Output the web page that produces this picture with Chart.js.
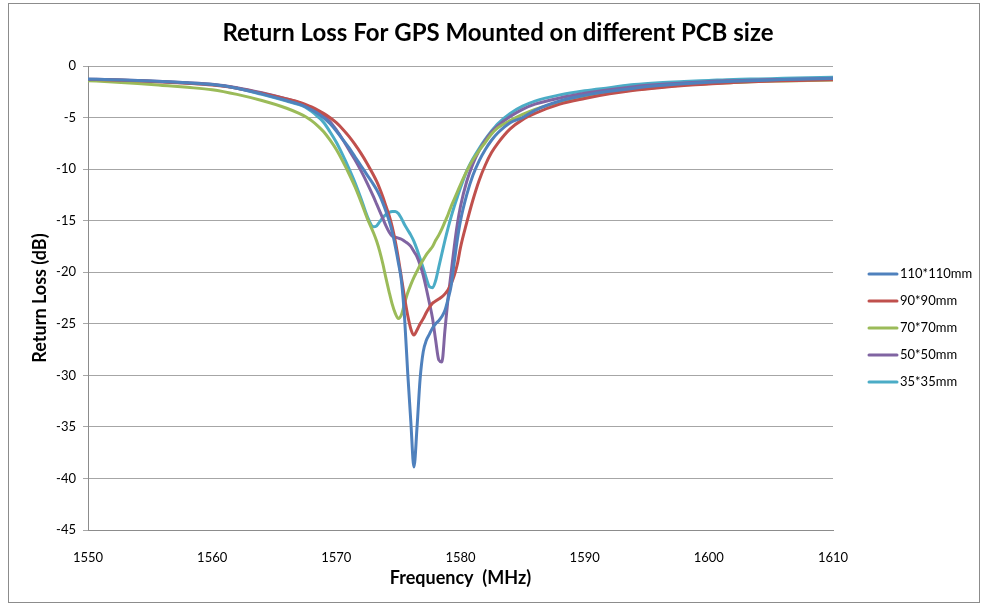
<!DOCTYPE html>
<html>
<head>
<meta charset="utf-8">
<title>Return Loss</title>
<script src="https://cdn.jsdelivr.net/npm/chart.js@4"></script>
<style>
  body { margin: 0; background: #fff; }
  canvas { display: block; }
</style>
</head>
<body>
<canvas id="grafico" width="982" height="605"></canvas>
<script>
// Frecuencias medidas (MHz)
const frecuencias = [
    1550, 1552, 1554, 1556, 1558, 1560, 1562, 1564, 1566,
    1567, 1567.5, 1568, 1568.5, 1569, 1569.5, 1570, 1570.5, 1571, 1571.5, 1572, 1572.5,
    1573, 1573.25, 1573.5, 1573.75, 1574, 1574.25, 1574.5, 1574.75,
    1575, 1575.25, 1575.5, 1575.75, 1576, 1576.25, 1576.5, 1576.75,
    1577, 1577.25, 1577.5, 1577.75, 1578, 1578.25, 1578.5, 1578.75,
    1579, 1579.25, 1579.5, 1579.75, 1580,
    1580.5, 1581, 1581.5, 1582, 1582.5, 1583,
    1584, 1585, 1586, 1588,
    1590, 1592, 1594, 1596, 1598, 1600, 1602, 1604, 1606, 1608, 1610
];

// Return loss (dB) para cada tamaño de PCB
const pcb110 = [
    -1.28, -1.33, -1.40, -1.50, -1.63, -1.80, -2.15, -2.70, -3.35,
    -3.70, -3.95, -4.25, -4.60, -5.05, -5.60, -6.30, -7.10, -7.90, -8.80, -9.70, -10.6,
    -11.5, -12.0, -12.6, -13.3, -14.1, -15.0, -16.1, -17.5,
    -19.1, -20.9, -24.5, -29.8, -34.5, -38.9, -35.0, -30.3,
    -27.7, -26.6, -26.0, -25.4, -25.0, -24.7, -24.3, -23.7,
    -22.6, -21.3, -19.0, -16.8, -15.0,
    -12.5, -10.6, -9.2, -8.1, -7.2, -6.5,
    -5.5, -5.0, -4.3, -3.4,
    -2.85, -2.45, -2.15, -1.90, -1.72, -1.58, -1.48, -1.40, -1.32, -1.27, -1.22
];

const pcb90 = [
    -1.30, -1.36, -1.44, -1.55, -1.68, -1.85, -2.15, -2.65, -3.20,
    -3.50, -3.72, -3.97, -4.27, -4.62, -5.02, -5.50, -6.10, -6.80, -7.60, -8.50, -9.50,
    -10.6, -11.2, -11.9, -12.7, -13.6, -14.5, -15.6, -17.0,
    -18.7, -20.6, -22.5, -24.2, -25.5, -26.1, -25.6, -25.0,
    -24.5, -23.9, -23.4, -23.0, -22.8, -22.6, -22.4, -22.1,
    -21.7, -21.1, -20.3, -19.2, -17.6,
    -15.2, -13.0, -11.1, -9.6, -8.4, -7.5,
    -6.1, -5.2, -4.6, -3.7,
    -3.15, -2.70, -2.35, -2.10, -1.90, -1.75, -1.60, -1.50, -1.43, -1.38, -1.33
];

const pcb70 = [
    -1.42, -1.55, -1.70, -1.88, -2.07, -2.30, -2.75, -3.35, -4.10,
    -4.60, -4.90, -5.30, -5.80, -6.40, -7.20, -8.10, -9.20, -10.4, -11.7, -13.2, -14.8,
    -16.2, -17.0, -18.0, -19.2, -20.6, -21.9, -23.1, -24.0,
    -24.5, -24.1, -23.0, -22.0, -21.2, -20.5, -19.9, -19.3,
    -18.8, -18.3, -17.9, -17.5, -16.9, -16.4, -15.8, -15.1,
    -14.4, -13.6, -12.9, -12.2, -11.5,
    -10.2, -9.1, -8.2, -7.4, -6.6, -6.0,
    -5.3, -4.7, -4.2, -3.5,
    -3.00, -2.60, -2.30, -2.05, -1.85, -1.70, -1.60, -1.50, -1.45, -1.40, -1.35
];

const pcb50 = [
    -1.28, -1.33, -1.40, -1.50, -1.62, -1.78, -2.10, -2.60, -3.20,
    -3.55, -3.80, -4.05, -4.40, -4.85, -5.40, -6.20, -7.10, -8.10, -9.10, -10.2, -11.4,
    -12.7, -13.4, -14.1, -14.8, -15.5, -16.1, -16.5, -16.6,
    -16.7, -16.8, -17.0, -17.2, -17.5, -18.0, -18.5, -19.3,
    -20.3, -21.6, -23.0, -24.5, -26.6, -28.5, -28.7, -25.6,
    -22.5, -20.0, -17.5, -15.3, -13.6,
    -11.2, -9.5, -8.2, -7.2, -6.4, -5.8,
    -4.9, -4.2, -3.7, -3.1,
    -2.65, -2.30, -2.00, -1.80, -1.65, -1.50, -1.42, -1.35, -1.30, -1.25, -1.20
];

const pcb35 = [
    -1.29, -1.35, -1.42, -1.52, -1.65, -1.80, -2.15, -2.75, -3.40,
    -3.75, -4.00, -4.40, -4.90, -5.50, -6.40, -7.40, -8.60, -9.90, -11.3, -12.9, -14.6,
    -15.6, -15.5, -15.1, -14.7, -14.4, -14.2, -14.1, -14.1,
    -14.3, -14.8, -15.4, -15.9, -16.4, -17.0, -17.8, -18.7,
    -19.6, -20.6, -21.4, -21.5, -20.8, -19.5, -18.2, -16.9,
    -15.7, -14.6, -13.6, -12.7, -11.8,
    -10.2, -9.0, -8.0, -7.1, -6.3, -5.6,
    -4.6, -3.9, -3.4, -2.8,
    -2.40, -2.10, -1.80, -1.62, -1.50, -1.40, -1.30, -1.25, -1.20, -1.15, -1.10
];

const nombres = ["110*110mm", "90*90mm", "70*70mm", "50*50mm", "35*35mm"];
const series = [pcb110, pcb90, pcb70, pcb50, pcb35];
const colores = ["#4f81bd", "#c0504d", "#9bbb59", "#8064a2", "#4bacc6"];

const fuente = "Lato, 'Liberation Sans', sans-serif";

// Marco, titulo y leyenda dibujados a mano
const decoracion = {
    id: "decoracion",
    beforeDraw(chart) {
        const ctx = chart.ctx;
        ctx.save();
        ctx.fillStyle = "#ffffff";
        ctx.fillRect(0, 0, chart.width, chart.height);
        ctx.strokeStyle = "#8c8c8c";
        ctx.lineWidth = 1;
        ctx.strokeRect(8.5, 3.5, 971, 599);
        ctx.restore();
    },
    afterDraw(chart) {
        const ctx = chart.ctx;
        ctx.save();
        ctx.fillStyle = "#000";
        ctx.font = "bold 24px " + fuente;
        ctx.textAlign = "center";
        ctx.textBaseline = "middle";
        ctx.fillText("Return Loss For GPS Mounted on different PCB size", 498, 33);

        ctx.font = "13px " + fuente;
        ctx.textAlign = "left";
        chart.data.datasets.forEach((ds, i) => {
            const y = 274 + i * 27;
            ctx.strokeStyle = ds.borderColor;
            ctx.lineWidth = 3;
            ctx.lineCap = "round";
            ctx.beginPath();
            ctx.moveTo(869, y);
            ctx.lineTo(897, y);
            ctx.stroke();
            ctx.fillText(ds.label, 900, y);
        });
        ctx.restore();
    }
};

const ctx = document.getElementById("grafico").getContext("2d");

const grafico = new Chart(ctx, {
    type: "line",
    data: {
        datasets: series.map((valores, i) => ({
            label: nombres[i],
            data: frecuencias.map((f, j) => ({ x: f, y: valores[j] })),
            borderColor: colores[i],
            borderWidth: 3,
            pointRadius: 0,
            cubicInterpolationMode: "monotone",
            fill: false
        }))
    },
    options: {
        responsive: false,
        animation: false,
        devicePixelRatio: 1,
        layout: {
            padding: { left: 8, right: 149, top: 66, bottom: 0 }
        },
        plugins: {
            legend: { display: false },
            title: { display: false },
            tooltip: { enabled: false }
        },
        scales: {
            x: {
                type: "linear",
                min: 1550,
                max: 1610,
                afterFit: (eje) => { eje.height = 75; },
                ticks: {
                    stepSize: 10,
                    padding: 12,
                    color: "#000",
                    font: { family: fuente, size: 13 },
                    maxRotation: 0,
                    callback: (valor) => String(valor)
                },
                grid: { display: false },
                border: { display: true, color: "#8c8c8c", width: 1 },
                title: {
                    display: true,
                    text: "Frequency  (MHz)",
                    color: "#000",
                    font: { family: fuente, size: 18, weight: "bold" },
                    padding: { top: 0, bottom: 16 }
                }
            },
            y: {
                min: -45,
                max: 0,
                afterFit: (eje) => { eje.width = 80; },
                ticks: {
                    stepSize: 5,
                    padding: 7,
                    color: "#000",
                    font: { family: fuente, size: 13 },
                    callback: (valor) => String(valor)
                },
                grid: {
                    color: "#a6a6a6",
                    lineWidth: 1,
                    tickLength: 5,
                    drawTicks: true
                },
                border: { display: true, color: "#8c8c8c", width: 1 },
                title: {
                    display: true,
                    text: "Return Loss (dB)",
                    color: "#000",
                    font: { family: fuente, size: 18, weight: "bold" },
                    padding: { top: 21, bottom: 0 }
                }
            }
        }
    },
    plugins: [decoracion]
});
</script>
</body>
</html>
